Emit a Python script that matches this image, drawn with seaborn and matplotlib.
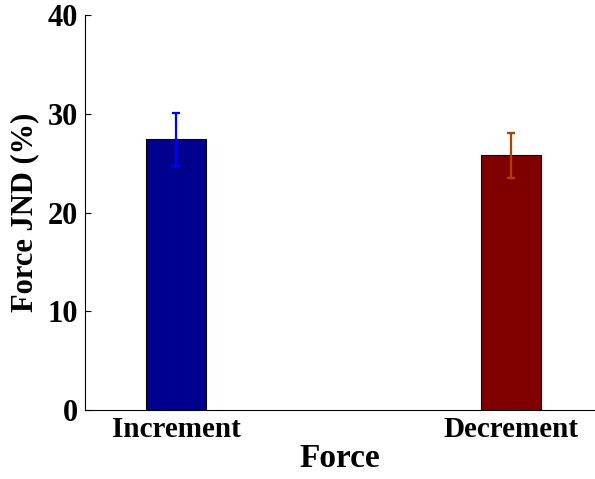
import matplotlib
matplotlib.use("Agg")
import matplotlib.pyplot as plt
import seaborn as sns
import pandas as pd

conditions = ["Increment", "Decrement"]
jnd = [27.4, 25.8]
err = [2.7, 2.3]
bar_colors = ["#00008F", "#800000"]
err_colors = ["#0000FF", "#B04000"]

sns.set_style("white")
plt.rcParams["font.family"] = ["Liberation Serif", "DejaVu Serif"]
plt.rcParams["font.weight"] = "bold"
plt.rcParams["text.color"] = "black"
plt.rcParams["axes.labelcolor"] = "black"
plt.rcParams["xtick.color"] = "black"
plt.rcParams["ytick.color"] = "black"

df = pd.DataFrame({"cond": conditions, "jnd": jnd})

fig = plt.figure(figsize=(5.95, 4.79), dpi=100)
ax = fig.add_axes([85/595, 69/479, 510/595, 395/479])

sns.barplot(data=df, x="cond", y="jnd", hue="cond", palette=bar_colors,
            saturation=1, width=0.18, errorbar=None, edgecolor="black",
            linewidth=0.8, legend=False, ax=ax)

for i, (v, e, c) in enumerate(zip(jnd, err, err_colors)):
    ax.errorbar(i, v, yerr=e, fmt="none", ecolor=c, elinewidth=1.6,
                capsize=3, capthick=1.6, zorder=5)

ax.set_ylim(0, 40)
ax.set_yticks([0, 10, 20, 30, 40])
ax.set_xlim(-0.272, 1.251)
ax.set_xlabel("Force", fontsize=24, fontweight="bold", labelpad=0, color="black")
ax.set_ylabel("Force JND (%)", fontsize=22, fontweight="bold", labelpad=6, color="black")
ax.tick_params(axis="y", direction="in", length=4, width=0.8, labelsize=22,
               pad=5, colors="black", left=True)
ax.tick_params(axis="x", length=0, labelsize=21, pad=4, colors="black")
for lab in ax.get_xticklabels() + ax.get_yticklabels():
    lab.set_fontweight("bold")
for s in ["top", "right"]:
    ax.spines[s].set_visible(False)
for s in ["left", "bottom"]:
    ax.spines[s].set_color("black")
    ax.spines[s].set_linewidth(0.8)

fig.savefig("out.png", dpi=100)
